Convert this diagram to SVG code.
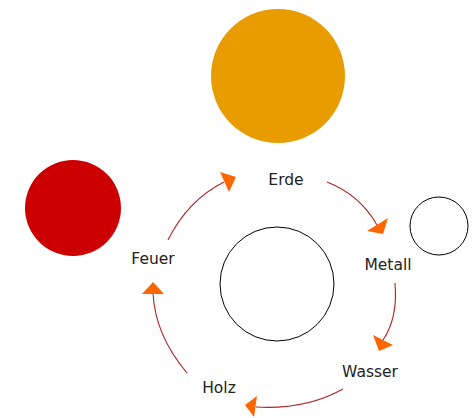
<svg xmlns="http://www.w3.org/2000/svg" width="472" height="418" viewBox="0 0 472 418">
<style>
.lbl{font-family:"DejaVu Sans",Verdana,sans-serif;font-size:15.5px;fill:#222;text-anchor:middle}
.ring{fill:#fff;stroke:#000;stroke-width:1}
.edge{fill:none;stroke:#b22222;stroke-width:1.1}
.head{fill:#ff6600}
</style>
<rect width="472" height="418" fill="#fff"/>
<g id="sun"><circle cx="278" cy="76" r="67" fill="#e89c00"/></g>
<g id="fire-disc"><circle cx="73" cy="208" r="48" fill="#cc0000"/></g>
<g id="metal-disc"><circle class="ring" cx="439" cy="226" r="29"/></g>
<g id="center-disc"><circle class="ring" cx="277" cy="284" r="57"/></g>
<g id="connectors">
<path class="edge" d="M168,240 Q188,200 224,182"/>
<polygon class="head" points="220,172 236,177 229,192"/>
<path class="edge" d="M327,182 Q360,195 377,225"/>
<polygon class="head" points="367,231 388,218 383,234"/>
<path class="edge" d="M395,283 Q398,318 383,340"/>
<polygon class="head" points="373,335 393,345 379,351"/>
<path class="edge" d="M343,389 Q305,410 256,407"/>
<polygon class="head" points="245,405 257,396 254,417"/>
<path class="edge" d="M187,373 Q155,335 153,293"/>
<polygon class="head" points="142,294 153,282 164,294"/>
</g>
<g id="erde"><text class="lbl" x="286" y="185">Erde</text></g>
<g id="metall"><text class="lbl" x="388" y="270">Metall</text></g>
<g id="wasser"><text class="lbl" x="370" y="377">Wasser</text></g>
<g id="holz"><text class="lbl" x="219" y="393">Holz</text></g>
<g id="feuer"><text class="lbl" x="153" y="264">Feuer</text></g>
</svg>
